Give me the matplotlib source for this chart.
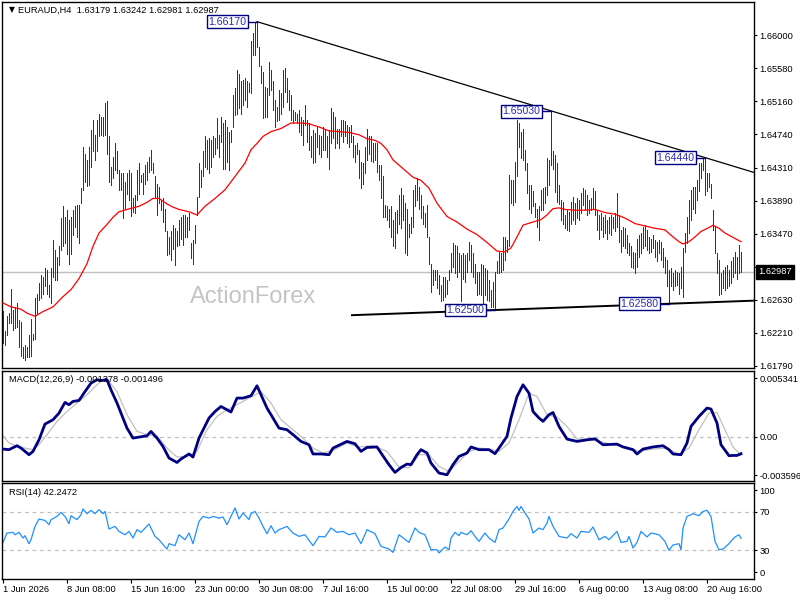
import numpy as np
import matplotlib
matplotlib.use("Agg")
import matplotlib.pyplot as plt
import matplotlib.transforms as mtransforms

plt.rcParams["font.family"] = ["Liberation Sans", "DejaVu Sans"]

# ---- EURAUD H4 bars (high / low), 1 Jun 2026 -> 25 Aug 2026 ----
bar_high = [
    1.6249, 1.6223, 1.6243, 1.6246, 1.6277, 1.6250, 1.6254, 1.6259, 1.6237, 1.6235,
    1.6203, 1.6205, 1.6203, 1.6218, 1.6239, 1.6220, 1.6265, 1.6271, 1.6284, 1.6295,
    1.6292, 1.6303, 1.6301, 1.6282, 1.6303, 1.6339, 1.6326, 1.6318, 1.6331, 1.6367,
    1.6382, 1.6369, 1.6377, 1.6365, 1.6369, 1.6377, 1.6382, 1.6384, 1.6384, 1.6405,
    1.6458, 1.6449, 1.6441, 1.6457, 1.6479, 1.6492, 1.6473, 1.6492, 1.6500, 1.6496,
    1.6496, 1.6513, 1.6516, 1.6471, 1.6432, 1.6445, 1.6462, 1.6452, 1.6428, 1.6424,
    1.6424, 1.6413, 1.6424, 1.6428, 1.6424, 1.6392, 1.6396, 1.6428, 1.6437, 1.6422,
    1.6424, 1.6435, 1.6439, 1.6445, 1.6454, 1.6437, 1.6420, 1.6411, 1.6406, 1.6390,
    1.6392, 1.6379, 1.6350, 1.6343, 1.6350, 1.6358, 1.6355, 1.6350, 1.6365, 1.6369,
    1.6371, 1.6371, 1.6369, 1.6373, 1.6335, 1.6339, 1.6358, 1.6394, 1.6437, 1.6428,
    1.6452, 1.6471, 1.6466, 1.6469, 1.6466, 1.6471, 1.6469, 1.6494, 1.6473, 1.6496,
    1.6488, 1.6492, 1.6483, 1.6477, 1.6479, 1.6524, 1.6532, 1.6555, 1.6551, 1.6541,
    1.6543, 1.6545, 1.6541, 1.6539, 1.6592, 1.6602, 1.6615, 1.6617, 1.6585, 1.6560,
    1.6553, 1.6534, 1.6532, 1.6566, 1.6555, 1.6541, 1.6517, 1.6509, 1.6530, 1.6526,
    1.6555, 1.6558, 1.6545, 1.6530, 1.6524, 1.6505, 1.6502, 1.6500, 1.6505, 1.6496,
    1.6492, 1.6511, 1.6492, 1.6488, 1.6471, 1.6479, 1.6475, 1.6483, 1.6473, 1.6471,
    1.6483, 1.6481, 1.6471, 1.6479, 1.6507, 1.6502, 1.6496, 1.6481, 1.6481, 1.6492,
    1.6492, 1.6490, 1.6486, 1.6483, 1.6486, 1.6471, 1.6460, 1.6462, 1.6454, 1.6439,
    1.6437, 1.6458, 1.6481, 1.6471, 1.6472, 1.6463, 1.6462, 1.6462, 1.6435, 1.6435,
    1.6420, 1.6384, 1.6382, 1.6379, 1.6382, 1.6365, 1.6375, 1.6377, 1.6396, 1.6405,
    1.6396, 1.6386, 1.6379, 1.6360, 1.6369, 1.6403, 1.6409, 1.6418, 1.6407, 1.6396,
    1.6382, 1.6373, 1.6384, 1.6343, 1.6309, 1.6301, 1.6301, 1.6301, 1.6295, 1.6282,
    1.6292, 1.6292, 1.6288, 1.6301, 1.6322, 1.6335, 1.6333, 1.6331, 1.6322, 1.6320,
    1.6322, 1.6320, 1.6322, 1.6337, 1.6333, 1.6322, 1.6309, 1.6299, 1.6299, 1.6309,
    1.6307, 1.6303, 1.6301, 1.6288, 1.6276, 1.6286, 1.6299, 1.6312, 1.6324, 1.6322,
    1.6343, 1.6343, 1.6339, 1.6422, 1.6415, 1.6415, 1.6439, 1.6492, 1.6488, 1.6477,
    1.6481, 1.6454, 1.6437, 1.6409, 1.6409, 1.6401, 1.6386, 1.6379, 1.6382, 1.6403,
    1.6405, 1.6407, 1.6443, 1.6441, 1.6503, 1.6452, 1.6447, 1.6437, 1.6409, 1.6390,
    1.6388, 1.6371, 1.6377, 1.6375, 1.6388, 1.6394, 1.6386, 1.6392, 1.6390, 1.6399,
    1.6405, 1.6403, 1.6396, 1.6390, 1.6392, 1.6405, 1.6401, 1.6377, 1.6371, 1.6373,
    1.6369, 1.6371, 1.6365, 1.6369, 1.6371, 1.6369, 1.6373, 1.6399, 1.6371, 1.6352,
    1.6356, 1.6354, 1.6346, 1.6335, 1.6331, 1.6324, 1.6322, 1.6341, 1.6346, 1.6348,
    1.6356, 1.6358, 1.6352, 1.6343, 1.6341, 1.6346, 1.6339, 1.6337, 1.6339, 1.6337,
    1.6329, 1.6318, 1.6314, 1.6301, 1.6303, 1.6297, 1.6301, 1.6299, 1.6297, 1.6305,
    1.6329, 1.6348, 1.6369, 1.6390, 1.6403, 1.6407, 1.6407, 1.6415, 1.6437, 1.6437,
    1.6443, 1.6444, 1.6424, 1.6424, 1.6411, 1.6377, 1.6356, 1.6322, 1.6314, 1.6297,
    1.6301, 1.6305, 1.6307, 1.6301, 1.6312, 1.6318, 1.6324, 1.6318, 1.6333, 1.63242,
]
bar_low = [
    1.6208, 1.6205, 1.6218, 1.6233, 1.6234, 1.6225, 1.6227, 1.6229, 1.6203, 1.6191,
    1.6189, 1.6187, 1.6190, 1.6190, 1.6191, 1.6212, 1.6213, 1.6246, 1.6263, 1.6265,
    1.6271, 1.6280, 1.6271, 1.6267, 1.6259, 1.6292, 1.6288, 1.6288, 1.6307, 1.6326,
    1.6331, 1.6335, 1.6321, 1.6309, 1.6321, 1.6345, 1.6356, 1.6343, 1.6335, 1.6386,
    1.6403, 1.6413, 1.6408, 1.6409, 1.6432, 1.6452, 1.6441, 1.6452, 1.6471, 1.6473,
    1.6471, 1.6473, 1.6449, 1.6413, 1.6409, 1.6418, 1.6428, 1.6424, 1.6403, 1.6403,
    1.6367, 1.6379, 1.6398, 1.6390, 1.6370, 1.6375, 1.6373, 1.6390, 1.6398, 1.6413,
    1.6398, 1.6411, 1.6415, 1.6426, 1.6428, 1.6424, 1.6394, 1.6371, 1.6386, 1.6377,
    1.6362, 1.6350, 1.6320, 1.6321, 1.6314, 1.6328, 1.6307, 1.6331, 1.6333, 1.6341,
    1.6333, 1.6343, 1.6343, 1.6352, 1.6316, 1.6309, 1.6335, 1.6371, 1.6394, 1.6407,
    1.6420, 1.6432, 1.6430, 1.6424, 1.6432, 1.6445, 1.6449, 1.6456, 1.6445, 1.6464,
    1.6430, 1.6430, 1.6439, 1.6428, 1.6464, 1.6483, 1.6498, 1.6500, 1.6507, 1.6500,
    1.6511, 1.6517, 1.6509, 1.6528, 1.6526, 1.6575, 1.6575, 1.6585, 1.6560, 1.6539,
    1.6494, 1.6496, 1.6496, 1.6524, 1.6530, 1.6505, 1.6483, 1.6490, 1.6492, 1.6500,
    1.6509, 1.6528, 1.6515, 1.6505, 1.6492, 1.6488, 1.6492, 1.6488, 1.6477, 1.6473,
    1.6460, 1.6486, 1.6464, 1.6454, 1.6445, 1.6437, 1.6439, 1.6458, 1.6449, 1.6445,
    1.6454, 1.6454, 1.6445, 1.6430, 1.6462, 1.6469, 1.6456, 1.6462, 1.6456, 1.6471,
    1.6464, 1.6471, 1.6462, 1.6458, 1.6464, 1.6445, 1.6439, 1.6449, 1.6418, 1.6405,
    1.6411, 1.6424, 1.6441, 1.6449, 1.6440, 1.6439, 1.6441, 1.6426, 1.6415, 1.6392,
    1.6369, 1.6369, 1.6365, 1.6356, 1.6343, 1.6331, 1.6329, 1.6348, 1.6360, 1.6354,
    1.6365, 1.6322, 1.6320, 1.6343, 1.6348, 1.6356, 1.6382, 1.6390, 1.6379, 1.6367,
    1.6360, 1.6356, 1.6343, 1.6309, 1.6273, 1.6282, 1.6288, 1.6278, 1.6271, 1.6261,
    1.6263, 1.6267, 1.6271, 1.6288, 1.6299, 1.6305, 1.6297, 1.6292, 1.6299, 1.6261,
    1.6290, 1.6286, 1.6299, 1.6314, 1.6299, 1.6292, 1.6284, 1.6269, 1.6271, 1.6269,
    1.6252, 1.6269, 1.6263, 1.6261, 1.6254, 1.6254, 1.6250, 1.6297, 1.6297, 1.6299,
    1.6301, 1.6314, 1.6324, 1.6331, 1.6386, 1.6384, 1.6388, 1.6420, 1.6458, 1.6443,
    1.6441, 1.6428, 1.6399, 1.6379, 1.6373, 1.6382, 1.6369, 1.6356, 1.6339, 1.6377,
    1.6377, 1.6386, 1.6396, 1.6409, 1.6435, 1.6430, 1.6400, 1.6388, 1.6385, 1.6365,
    1.6360, 1.6354, 1.6352, 1.6350, 1.6360, 1.6365, 1.6360, 1.6367, 1.6365, 1.6373,
    1.6384, 1.6377, 1.6371, 1.6373, 1.6377, 1.6379, 1.6371, 1.6352, 1.6341, 1.6352,
    1.6343, 1.6348, 1.6341, 1.6348, 1.6346, 1.6354, 1.6350, 1.6356, 1.6337, 1.6324,
    1.6331, 1.6329, 1.6322, 1.6320, 1.6305, 1.6303, 1.6297, 1.6305, 1.6318, 1.6322,
    1.6329, 1.6331, 1.6326, 1.6322, 1.6324, 1.6329, 1.6318, 1.6312, 1.6322, 1.6314,
    1.6305, 1.6297, 1.6280, 1.6258, 1.6280, 1.6276, 1.6280, 1.6282, 1.6271, 1.6278,
    1.6267, 1.6324, 1.6335, 1.6348, 1.6365, 1.6379, 1.6373, 1.6390, 1.6401, 1.6418,
    1.6428, 1.6396, 1.6401, 1.6407, 1.6392, 1.6352, 1.6322, 1.6297, 1.6269, 1.6271,
    1.6278, 1.6276, 1.6278, 1.6280, 1.6284, 1.6292, 1.6297, 1.6290, 1.6297, 1.62981,
]
last_ohlc = [1.63179, 1.63242, 1.62981, 1.62987]

# moving average (red), sampled at bar positions
ma_idx = [0, 4, 9, 12, 16, 20, 25, 30, 34, 38, 42, 45, 48, 52, 55, 58, 62, 65, 68, 72,
          75, 78, 82, 85, 88, 93, 97, 101, 106, 111, 116, 121, 124, 127, 130, 134, 139,
          144, 149, 153, 158, 163, 168, 173, 178, 182, 186, 189, 192, 195, 200, 205, 209,
          213, 217, 222, 227, 232, 237, 242, 247, 251, 254, 257, 260, 265, 269, 272, 275,
          278, 281, 286, 291, 296, 301, 306, 311, 316, 321, 326, 331, 335, 338, 340, 343,
          346, 349, 353, 355, 358, 361, 366, 369]
ma_val = [1.6259, 1.6254, 1.6251, 1.6246, 1.6242, 1.6248, 1.6254, 1.6267, 1.6276, 1.6290,
          1.6309, 1.6331, 1.6348, 1.6359, 1.6368, 1.6375, 1.6378, 1.6380, 1.6382, 1.6387,
          1.6392, 1.6392, 1.6385, 1.6381, 1.6378, 1.6375, 1.6371, 1.6382, 1.6392, 1.6403,
          1.6420, 1.6437, 1.6454, 1.6462, 1.6471, 1.6477, 1.6481, 1.6488, 1.6488, 1.6487,
          1.6483, 1.6478, 1.6477, 1.6476, 1.6473, 1.6468, 1.6466, 1.6462, 1.6454, 1.6441,
          1.6430, 1.6419, 1.6415, 1.6405, 1.6386, 1.6369, 1.6362, 1.6353, 1.6346, 1.6336,
          1.6325, 1.6324, 1.6329, 1.6343, 1.6358, 1.6362, 1.6365, 1.6371, 1.6379, 1.6380,
          1.6378, 1.6377, 1.6377, 1.6378, 1.6374, 1.6372, 1.6367, 1.6360, 1.6357, 1.6354,
          1.6352, 1.6343, 1.6337, 1.6334, 1.6337, 1.6343, 1.6350, 1.6355, 1.6358, 1.6354,
          1.6348, 1.6341, 1.6337]

# MACD(12,26,9) main line and signal, in units of 0.001
macd_idx = [0, 3, 7, 9, 13, 15, 18, 21, 25, 28, 31, 33, 35, 38, 41, 44, 47, 49, 52, 54,
            57, 59, 62, 65, 68, 72, 74, 77, 80, 83, 87, 89, 93, 95, 98, 103, 106, 109, 112,
            114, 117, 120, 124, 127, 129, 132, 134, 138, 142, 145, 149, 153, 155, 159, 163,
            165, 172, 176, 179, 182, 187, 189, 193, 196, 199, 202, 204, 207, 209, 212, 214,
            218, 222, 225, 228, 232, 234, 238, 243, 246, 248, 252, 254, 257, 260, 263, 265,
            268, 270, 273, 275, 278, 282, 287, 292, 296, 300, 307, 310, 315, 317, 320, 325,
            330, 333, 335, 339, 342, 344, 348, 352, 354, 357, 359, 363, 365, 367, 369]
macd_val = [-1.00, -1.05, -0.73, -0.92, -1.46, -1.19, -0.25, 1.03, 1.38, 1.92, 2.79, 2.60,
            2.87, 2.95, 3.67, 4.36, 4.63, 4.57, 4.63, 3.81, 2.74, 1.92, 0.70, -0.11, -0.03,
            0.08, 0.43, -0.11, -0.79, -1.73, -2.09, -1.81, -1.40, -1.65, -0.11, 1.52, 2.05,
            2.46, 2.19, 2.01, 3.14, 3.14, 3.33, 4.14, 3.41, 2.33, 1.79, 0.70, 0.57, 0.17,
            -0.38, -0.65, -1.40, -1.40, -1.46, -0.92, -0.38, -0.57, -1.19, -0.87, -0.83,
            -1.32, -2.27, -2.90, -2.50, -2.22, -2.27, -1.46, -1.05, -1.32, -2.14, -2.95,
            -3.09, -2.27, -1.60, -1.32, -0.83, -1.05, -1.05, -1.38, -0.92, 0.03, 1.52, 3.27,
            4.22, 3.54, 2.05, 1.52, 1.25, 1.79, 1.97, 0.84, -0.19, -0.38, -0.25, -0.17,
            -0.65, -0.60, -0.83, -1.05, -1.40, -1.00, -0.83, -0.73, -1.05, -1.40, -1.46,
            -0.51, 0.84, 1.65, 2.33, 2.25, 1.11, -0.65, -1.54, -1.52, -1.52, -1.378]
signal_idx = [0, 3, 8, 15, 18, 22, 27, 32, 37, 42, 47, 50, 53, 57, 62, 67, 72, 77, 82, 87,
              92, 97, 102, 107, 112, 117, 123, 129, 134, 139, 145, 150, 155, 160, 165, 172,
              178, 185, 192, 198, 203, 208, 213, 218, 223, 228, 233, 238, 243, 248, 253,
              258, 263, 267, 272, 277, 282, 287, 292, 298, 305, 312, 318, 325, 332, 338,
              343, 348, 353, 357, 361, 365, 369]
signal_val = [0.08, -0.51, -0.83, -1.05, -0.65, 0.17, 1.25, 2.05, 2.74, 3.41, 4.22, 4.63,
              4.49, 3.67, 1.79, 0.43, 0.17, 0.08, -0.92, -1.65, -1.60, -1.19, 0.57, 1.65,
              2.19, 2.60, 3.14, 3.67, 2.74, 1.38, 0.57, -0.11, -0.92, -1.32, -1.11, -0.51,
              -0.83, -0.73, -1.19, -2.46, -2.54, -1.46, -1.46, -2.41, -2.82, -2.01, -1.19,
              -0.92, -1.00, -1.19, -0.51, 1.38, 3.54, 3.27, 1.79, 1.60, 0.84, -0.19, -0.19,
              -0.38, -0.65, -0.83, -1.19, -1.00, -0.92, -1.46, -0.92, 0.57, 1.92, 1.97,
              0.57, -0.83, -1.496]
macd_title = "MACD(12,26,9) -0.001378 -0.001496"

# RSI(14)
rsi_idx = [0, 2, 5, 6, 8, 10, 11, 13, 14, 16, 18, 21, 23, 24, 27, 29, 31, 33, 34, 37, 39,
           40, 42, 44, 46, 48, 50, 51, 53, 56, 58, 61, 63, 65, 67, 69, 73, 76, 78, 82, 83,
           86, 88, 91, 93, 95, 98, 100, 103, 105, 108, 110, 112, 114, 116, 118, 120, 123,
           124, 126, 128, 130, 132, 134, 136, 138, 142, 145, 148, 151, 155, 158, 161, 164,
           167, 170, 173, 176, 179, 182, 186, 189, 193, 195, 198, 203, 206, 208, 211, 214,
           217, 218, 221, 223, 224, 226, 228, 229, 232, 234, 236, 238, 241, 243, 246, 248,
           250, 253, 255, 257, 258, 259, 261, 263, 265, 268, 270, 272, 273, 275, 278, 282,
           284, 287, 289, 293, 295, 298, 301, 303, 307, 309, 312, 313, 315, 317, 319, 322,
           324, 328, 331, 333, 335, 338, 339, 340, 342, 345, 348, 350, 352, 354, 356, 358,
           360, 363, 364, 366, 368, 369]
rsi_val = [38.1, 47.9, 48.6, 46.1, 48.6, 42.7, 45.1, 36.8, 40.9, 54.8, 62.5, 61.0, 56.6,
           61.8, 65.2, 69.4, 65.2, 57.6, 65.9, 61.8, 67.0, 72.9, 68.0, 71.5, 68.0, 72.2,
           68.0, 70.4, 52.1, 54.8, 49.6, 46.1, 49.6, 42.7, 51.4, 48.6, 57.3, 44.4, 40.9,
           31.2, 36.8, 34.7, 46.1, 40.9, 47.9, 36.8, 60.0, 65.2, 63.5, 65.2, 63.5, 64.6,
           56.6, 65.2, 74.0, 62.5, 68.8, 61.8, 68.0, 70.4, 63.5, 54.8, 47.2, 55.5, 47.9,
           51.4, 54.8, 47.9, 44.4, 46.1, 34.7, 44.4, 43.8, 53.1, 48.6, 49.6, 46.1, 47.9,
           36.8, 51.4, 47.2, 34.0, 31.2, 27.7, 46.1, 38.1, 53.1, 48.6, 46.1, 30.5, 30.5,
           27.1, 33.3, 30.5, 42.7, 48.6, 45.1, 48.6, 46.1, 50.3, 44.4, 39.2, 47.9, 42.7,
           38.1, 51.4, 53.1, 62.5, 70.4, 75.6, 71.5, 75.6, 68.8, 62.5, 47.9, 53.1, 51.4,
           58.3, 65.2, 54.8, 44.4, 42.7, 47.2, 42.7, 49.6, 48.6, 54.2, 40.9, 44.4, 40.9,
           49.6, 38.1, 39.2, 44.4, 32.3, 38.1, 49.6, 43.8, 47.9, 46.1, 39.2, 29.8, 35.4,
           36.8, 30.5, 53.1, 65.2, 68.0, 65.9, 70.4, 71.5, 65.2, 39.2, 30.5, 31.2, 36.8,
           39.2, 43.8, 46.1, 42.2472]
rsi_title = "RSI(14) 42.2472"

# marked highs / lows and trend lines
mark_idx = [127, 274, 351, 246, 333]
mark_price = [1.66170, 1.65030, 1.64440, 1.62500, 1.62580]
upper_line = [(127, 1.66170), (351, 1.64440)]
lower_line = [(246, 1.62500), (333, 1.62580)]
lower_start = 174.5

price_ticks = [1.66000, 1.65580, 1.65160, 1.64740, 1.64310, 1.63890, 1.63470,
               1.63050, 1.62630, 1.62210, 1.61790]
date_idx = [0, 32, 64, 96, 128, 160, 192, 224, 256, 288, 320, 352]
date_labels = ["1 Jun 2026", "8 Jun 08:00", "15 Jun 16:00", "23 Jun 00:00",
               "30 Jun 08:00", "7 Jul 16:00", "15 Jul 00:00", "22 Jul 08:00",
               "29 Jul 16:00", "6 Aug 00:00", "13 Aug 08:00", "20 Aug 16:00"]

# ---- drawing ----
FS = 6.7
BAR_C = "#11405e"
XL = (-0.5, 375.5)

fig = plt.figure(figsize=(8, 6), dpi=100)
fig.patch.set_facecolor("white")
W = 752 / 800
ax1 = fig.add_axes([2 / 800, 1 - 368 / 600, W, 366 / 600])
ax2 = fig.add_axes([2 / 800, 1 - 481 / 600, W, 110 / 600])
ax3 = fig.add_axes([2 / 800, 1 - 579 / 600, W, 96 / 600])

for ax in (ax1, ax2, ax3):
    ax.set_xlim(*XL)
    ax.yaxis.tick_right()
    ax.tick_params(axis="y", direction="out", length=2.5, width=0.8, pad=1.2,
                   labelsize=FS, colors="black")
    for s in ax.spines.values():
        s.set_linewidth(1.0)
        s.set_color("black")

# main price panel
x = np.arange(len(bar_high))
hi = np.array(bar_high)
lo = np.array(bar_low)
ax1.axhline(last_ohlc[3], color="#c0c0c0", lw=1.0, zorder=1)
ax1.vlines(x, lo, hi, color=BAR_C, lw=0.72, antialiased=False, zorder=2)
ax1.plot(ma_idx, ma_val, color="#ff0000", lw=0.9, zorder=3)

(ux0, uy0), (ux1, uy1) = upper_line
us = (uy1 - uy0) / (ux1 - ux0)
ax1.plot([ux0, XL[1]], [uy0, uy0 + us * (XL[1] - ux0)], color="black", lw=0.9, zorder=4)
(lx0, ly0), (lx1, ly1) = lower_line
ls = (ly1 - ly0) / (lx1 - lx0)
ax1.plot([lower_start, XL[1]], [ly0 + ls * (lower_start - lx0), ly0 + ls * (XL[1] - lx0)],
         color="black", lw=1.4, zorder=4)

for i, p in zip(mark_idx, mark_price):
    ax1.plot([i - 5, i], [p, p], color="#000080", lw=1.0, zorder=5)
    ax1.text(i - 5.3, p, f"{p:.5f}", ha="right", va="center", fontsize=7.6,
             color="#2a2ab0", zorder=6,
             bbox=dict(boxstyle="square,pad=0.14", facecolor="white",
                       edgecolor="#000080", linewidth=1.0))

ax1.set_ylim(1.61762, 1.66420)
ax1.set_yticks(price_ticks)
# the 1.63050 label sits under the current-price box, as in the terminal
ax1.set_yticklabels(["" if abs(t - 1.63050) < 1e-6 else f"{t:.5f}" for t in price_ticks])
ax1.set_xticks([])

trans = mtransforms.blended_transform_factory(ax1.transAxes, ax1.transData)
ax1.text(1.006, last_ohlc[3], f"{last_ohlc[3]:.5f}", transform=trans, ha="left",
         va="center", fontsize=FS, color="white", zorder=10,
         bbox=dict(boxstyle="square,pad=0.25", facecolor="black", edgecolor="black"))

ax1.text(7 / 752, 1 - 8 / 366, "\u25bc", transform=ax1.transAxes, ha="left",
         va="center", fontsize=5.5, family=["DejaVu Sans"])
ax1.text(16 / 752, 1 - 8 / 366,
         "EURAUD,H4  " + " ".join(f"{v:.5f}" for v in last_ohlc),
         transform=ax1.transAxes, ha="left", va="center", fontsize=FS)
ax1.text(0.334, 0.194, "ActionForex", transform=ax1.transAxes, ha="center",
         va="center", fontsize=17, color="#c4c4c4", zorder=0)

# MACD panel
ax2.axhline(0, color="#c0c0c0", lw=0.9, ls=(0, (3, 3)), zorder=1)
ax2.plot(signal_idx, np.array(signal_val) * 1e-3, color="#c0c0c0", lw=0.9, zorder=2)
ax2.plot(macd_idx, np.array(macd_val) * 1e-3, color="#000080", lw=2.0, zorder=3)
ax2.set_ylim(-0.003596, 0.005341)
ax2.set_yticks([0.00477, 0.0, -0.00311])
ax2.set_yticklabels(["0.005341", "0.00", "-0.003596"])
ax2.set_xticks([])
ax2.text(7 / 752, 1 - 9 / 110, macd_title, transform=ax2.transAxes, ha="left",
         va="center", fontsize=FS)

# RSI panel
for lvl in (70, 30):
    ax3.axhline(lvl, color="#c0c0c0", lw=0.9, ls=(0, (3, 3)), zorder=1)
ax3.plot(rsi_idx, rsi_val, color="#1e90ff", lw=0.9, zorder=2)
ax3.set_ylim(0, 100)
ax3.set_yticks([92.3, 70, 30, 6.9])
ax3.set_yticklabels(["100", "70", "30", "0"])
ax3.text(7 / 752, 1 - 9.5 / 96, rsi_title, transform=ax3.transAxes, ha="left",
         va="center", fontsize=FS)

ax3.set_xticks(date_idx)
ax3.set_xticklabels(date_labels)
ax3.tick_params(axis="x", direction="out", length=3, width=0.8, pad=1.5, labelsize=FS)
for lbl in ax3.get_xticklabels():
    lbl.set_ha("left")

fig.savefig("out.png", dpi=100, facecolor="white")
